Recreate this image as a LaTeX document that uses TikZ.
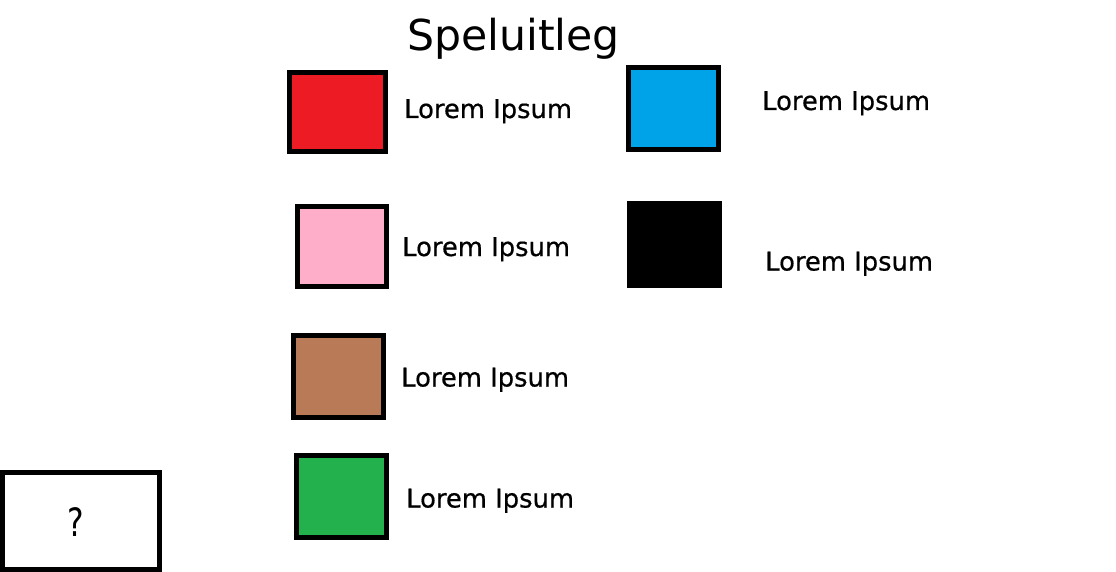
\documentclass[tikz,border=0pt]{standalone}
\usepackage{fontspec}
\setmainfont{DejaVu Sans}
\newfontfamily\titlefont{DejaVu Sans}
\newfontfamily\lblfont{DejaVu Sans}[FakeBold=0.6]
\definecolor{cred}{HTML}{ED1C24}
\definecolor{cblue}{HTML}{00A2E8}
\definecolor{cpink}{HTML}{FFAEC9}
\definecolor{cbrown}{HTML}{B97A57}
\definecolor{cgreen}{HTML}{22B14C}
\tikzset{
  swatch/.style={draw=black,line width=5pt},
  lbl/.style={anchor=base west,inner sep=0pt,font=\lblfont\fontsize{25.8}{30}\selectfont},
}
\begin{document}
\begin{tikzpicture}[x=1pt,y=-1pt]
\useasboundingbox (0,0) rectangle (1116,572);
\fill[white] (0,0) rectangle (1116,572);
% title
\node[anchor=base,inner sep=0pt,font=\titlefont\fontsize{42.6}{48}\selectfont] (title) at (513.5,51) {Speluitleg};
% swatches
\path[swatch,fill=cred] (289.5,72.5) rectangle (385.5,151.5);
\node[inner sep=0pt,minimum size=0pt] (red) at (337.5,112) {};
\path[swatch,fill=cblue] (628.5,67.5) rectangle (718.2,149.2);
\node[inner sep=0pt] (blue) at (673,108) {};
\fill[black] (627,201) rectangle (722,288);
\node[inner sep=0pt] (black) at (674.5,244.5) {};
\path[swatch,fill=cpink] (297.5,206.5) rectangle (386.5,286.5);
\node[inner sep=0pt] (pink) at (342,246.5) {};
\path[swatch,fill=cbrown] (293.5,335.5) rectangle (383.5,417.2);
\node[inner sep=0pt] (brown) at (338.5,376.5) {};
\path[swatch,fill=cgreen] (296.5,455.5) rectangle (386.5,537.5);
\node[inner sep=0pt] (green) at (341.5,496.5) {};
% labels
\node[lbl] (l1) at (404,118) {Lorem Ipsum};
\node[lbl] (l2) at (762,110) {Lorem Ipsum};
\node[lbl] (l3) at (402,256) {Lorem Ipsum};
\node[lbl] (l4) at (765,270.5) {Lorem Ipsum};
\node[lbl] (l5) at (401,386.5) {Lorem Ipsum};
\node[lbl] (l6) at (406,507.5) {Lorem Ipsum};
% question box
\draw[line width=5pt] (2.5,472.5) rectangle (159.5,569.5);
\node[inner sep=0pt,font=\fontsize{39}{44}\selectfont,xscale=0.8] (q) at (76,522) {?};
\end{tikzpicture}
\end{document}
